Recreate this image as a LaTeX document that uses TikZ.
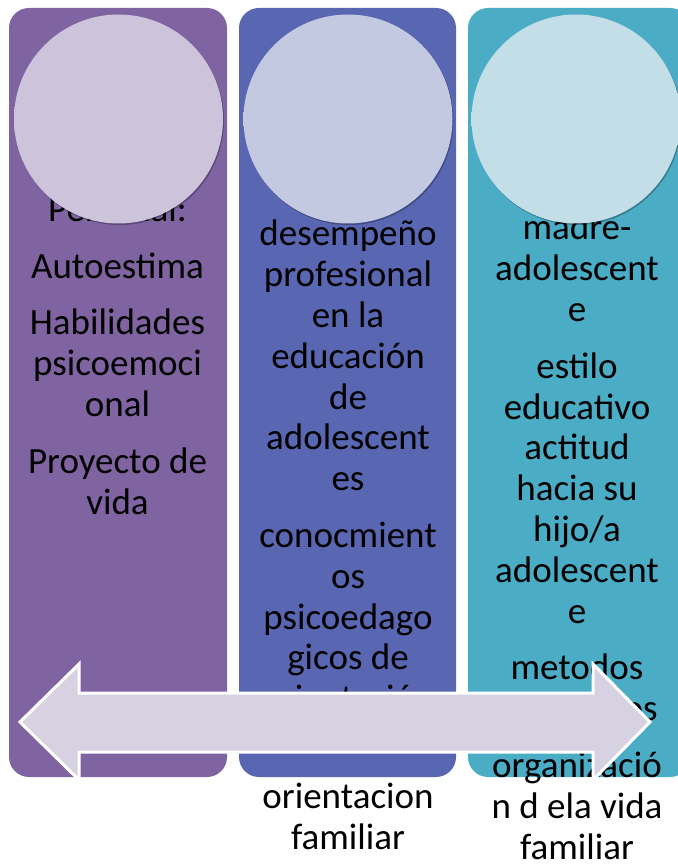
\documentclass[tikz,border=0pt]{standalone}
\usepackage{fontspec}
\setmainfont{Carlito}

\definecolor{moradoCol}{HTML}{8064A2}
\definecolor{azulCol}{HTML}{5967B3}
\definecolor{turquesaCol}{HTML}{4BACC6}
\definecolor{flechaGris}{HTML}{D6D2E2}
\definecolor{botonMoradoIn}{HTML}{CDC3DA}
\definecolor{botonMoradoOut}{HTML}{EEEBF3}
\definecolor{botonAzulIn}{HTML}{C4C9E2}
\definecolor{botonAzulOut}{HTML}{E8EAF5}
\definecolor{botonTurqIn}{HTML}{C3DEE6}
\definecolor{botonTurqOut}{HTML}{E8F4F7}
\colorlet{botonIn}{botonMoradoIn}
\colorlet{botonOut}{botonMoradoOut}

\pgfdeclareradialshading[botonIn,botonOut]{boton}{\pgfpoint{0bp}{0bp}}{%
  color(0bp)=(botonIn); color(34bp)=(botonIn); color(48bp)=(botonOut); color(50bp)=(botonOut)}

\tikzset{
  columna/.style={rounded corners=20pt},
  texto/.style={align=center, anchor=base, inner sep=0pt,
    font=\fontsize{37}{40.8}\selectfont},
  flecha/.style={draw=white, line width=3pt, fill=flechaGris, line join=miter},
}

\begin{document}
\begin{tikzpicture}[x=1pt,y=-1pt]
  \useasboundingbox (0,0) rectangle (677,866);

  % columnas
  \fill[columna, moradoCol] (9,8) rectangle (227,777);
  \fill[columna, azulCol] (239,8) rectangle (456,777);
  \fill[columna, turquesaCol] (468,8) rectangle (690,777);

  % textos (anclados en la linea base de la ultima linea)
  \node[texto] (personal) at (117.5,514)
    {Personal:\\[16pt]Autoestima\\[16pt]Habilidades\\psicoemoci\\onal\\[16pt]Proyecto de\\vida};
  \node[texto] (docente) at (348,849)
    {desempeño\\profesional\\en la\\educación\\de\\adolescent\\es\\[16pt]conocmient\\os\\psicoedago\\gicos de\\orientación\\del educador\\[16pt]orientacion\\familiar};
  \node[texto] (familia) at (577,859)
    {madre-\\adolescent\\e\\[16pt]estilo\\educativo\\actitud\\hacia su\\hijo/a\\adolescent\\e\\[16pt]metodos\\educativos\\[16pt]organizació\\n d ela vida\\familiar};

  % botones
  \foreach \cx/\cin/\cout in {118.5/botonMoradoIn/botonMoradoOut,
                              348/botonAzulIn/botonAzulOut,
                              576/botonTurqIn/botonTurqOut} {
    \colorlet{botonIn}{\cin}
    \colorlet{botonOut}{\cout}
    \fill[black, opacity=0.28] (\cx+1,120.5) circle[radius=104.5pt];
    \shade[shading=boton] (\cx,119) circle[radius=104.5pt];
  }

  % flecha doble
  \draw[flecha] (20,722) -- (79,664) -- (79,693) -- (593,693) -- (593,664)
    -- (650,722) -- (593,780) -- (593,752) -- (79,752) -- (79,780) -- cycle;
\end{tikzpicture}
\end{document}
